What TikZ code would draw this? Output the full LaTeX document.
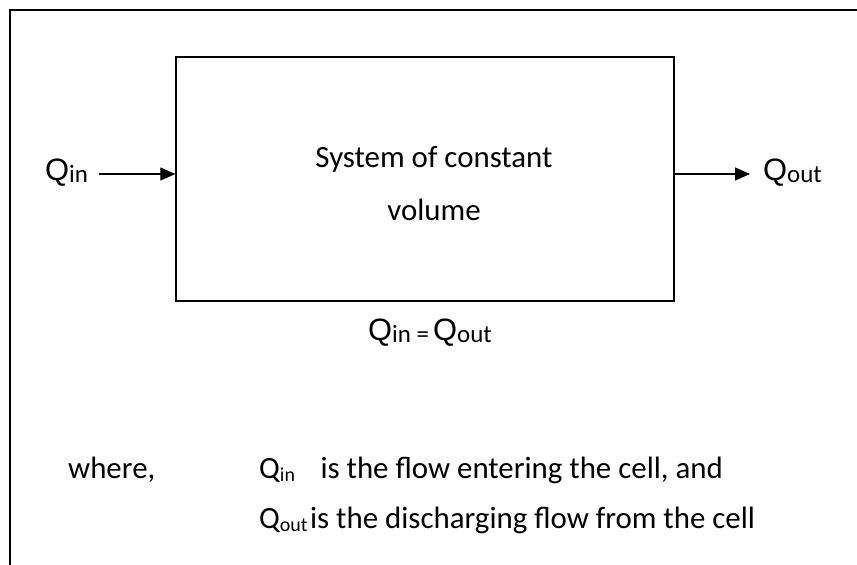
\documentclass[tikz,border=0pt]{standalone}
\usepackage{fontspec}
\setmainfont{Carlito}
\newfontfamily\arialfont{Liberation Sans}
\usetikzlibrary{arrows.meta,calc,positioning}

% flow symbol: big Q with a Calibri index
\newcommand{\flowQ}[1]{{\arialfont\fontsize{31}{36}\selectfont Q}\raisebox{-2bp}{\fontsize{25}{30}\selectfont #1}}
\newcommand{\textQ}[1]{Q\raisebox{-3bp}{\fontsize{20}{24}\selectfont #1}}

\tikzset{
  frameline/.style={line width=1.5bp},
  flow/.style={line width=1.3bp,-{Triangle[length=15bp,width=13bp]}},
  bodytext/.style={inner sep=0pt,font=\fontsize{31}{37}\selectfont}
}

\begin{document}
\begin{tikzpicture}[x=1bp,y=-1bp]
  \useasboundingbox (0,0) rectangle (857,565);

  % Drawing outer frame (top and left only)
  \draw [frameline] (10,565) -- (10,10) -- (857,10);

  % Drawing system box
  \node [draw,line width=1.3bp,minimum width=498bp,minimum height=244bp,inner sep=0pt] (box) at (425,179) {};
  \node [bodytext,anchor=base] (boxtop) at (434,168) {System of constant};
  \node [bodytext,anchor=base] (boxbot) at (434,221) {volume};

  % Marking Q_in and Q_out
  \node [inner sep=0pt,anchor=base west] (qin) at (45,181) {\flowQ{in}};
  \node [inner sep=0pt,anchor=base west] (qout) at (763,181) {\flowQ{out}};

  % Drawing flow arrows
  \coordinate (inflow) at (99,174);
  \coordinate (outflow) at (750,174);
  \draw [flow] (inflow) -- (inflow -| box.west);
  \draw [flow] (outflow -| box.east) -- (outflow);

  % Marking balance
  \node [inner sep=0pt,anchor=base west] (balance) at (368,340) {\flowQ{in =\,}\flowQ{out}};

  % Marking explanation
  \node [bodytext,anchor=base west] (where) at (68,478) {where,};
  \node [bodytext,anchor=base west] (expin) at (259,478) {\textQ{in}\hspace{0.6em} is the flow entering the cell, and};
  \node [bodytext,anchor=base west] (expout) at (259,528) {\textQ{out}\hspace{0.08em}is the discharging flow from the cell};
\end{tikzpicture}
\end{document}
